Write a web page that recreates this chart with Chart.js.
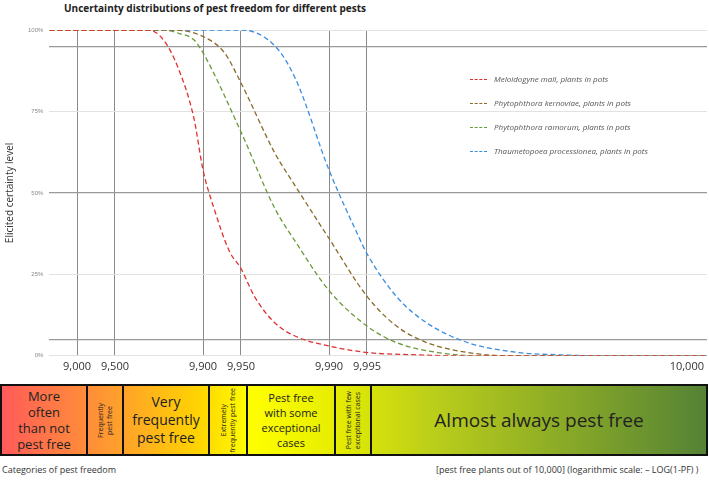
<!DOCTYPE html>
<html><head><meta charset="utf-8">
<script src="https://cdn.jsdelivr.net/npm/chart.js@4"></script>
<style>
body{margin:0;width:709px;height:489px;position:relative;background:#fff;font-family:"Open Sans",sans-serif;overflow:hidden}
#wrap{position:absolute;left:0;top:20px;width:709px;height:357px}
#title{position:absolute;left:64px;top:1px;font:bold 10px "Open Sans",sans-serif;color:#222}
.leg{position:absolute;left:470px;font:italic 8px "Open Sans",sans-serif;color:#555;white-space:nowrap}
.leg span{display:inline-block;width:17px;border-top:1.5px dashed;vertical-align:middle;margin-right:7px}
#band{position:absolute;left:0;top:384px;width:708px;height:72px;background:linear-gradient(to right,#ff5a5a 0px,#ff9a30 110px,#ffd500 200px,#ffff00 250px,#e8ee00 330px,#bccf1a 430px,#548235 708px)}
.b{position:absolute;top:0;height:68px;border:2px solid #111;display:flex;align-items:center;justify-content:center;text-align:center;font-family:"Open Sans",sans-serif;color:#222;box-sizing:content-box}
.v{writing-mode:vertical-rl;transform:rotate(180deg);font-size:7px;line-height:9px;white-space:nowrap}
.foot{position:absolute;top:463px;font:9px "Open Sans",sans-serif;color:#333}
</style></head><body>
<div id="title">Uncertainty distributions of pest freedom for different pests</div>
<div id="wrap"><canvas id="c" width="709" height="357"></canvas></div>
<div class="leg" style="top:73px;"><span style="border-color:#e03030"></span>Meloidogyne mali, plants in pots</div>
<div class="leg" style="top:97px;"><span style="border-color:#8b6a2a"></span>Phytophthora kernoviae, plants in pots</div>
<div class="leg" style="top:121px;"><span style="border-color:#6a9a3a"></span>Phytophthora ramorum, plants in pots</div>
<div class="leg" style="top:145px;"><span style="border-color:#3a8ee0"></span>Thaumetopoea processionea, plants in pots</div>
<div id="band">
 <div class="b" style="left:0;width:84px;font-size:13px;line-height:16px">More<br>often<br>than not<br>pest free</div>
 <div class="b" style="left:86px;width:34px"><div class="v">Frequently<br>pest free</div></div>
 <div class="b" style="left:122px;width:84px;font-size:14px;line-height:18px">Very<br>frequently<br>pest free</div>
 <div class="b" style="left:208px;width:36px"><div class="v">Extremely<br>frequently pest free</div></div>
 <div class="b" style="left:246px;width:86px;font-size:11px;line-height:15px">Pest free<br>with some<br>exceptional<br>cases</div>
 <div class="b" style="left:334px;width:34px"><div class="v">Pest free with few<br>exceptional cases</div></div>
 <div class="b" style="left:370px;width:334px;font-size:19px">Almost always pest free</div>
</div>
<div class="foot" style="left:2px">Categories of pest freedom</div>
<div class="foot" style="left:436px">[pest free plants out of 10,000] (logarithmic scale: – LOG(1-PF) )</div>
<script>
// x values are -log10(1 - PF)
const tickPos = [1, 1.301, 2, 2.301, 3, 3.301, 5.84];
const tickLabels = ['9,000','9,500','9,900','9,950','9,990','9,995','10,000'];
const meloX = [0.78,1.565,1.685,1.806,1.927,2.0,2.089,2.21,2.298,2.411,2.573,2.734,3.0,3.306,3.70,4.024,6];
const meloY = [100,100,97,88,73,57,45,32,27,18,10,6,3,1,0.3,0,0];
const kernX = [0.78,1.766,2.0,2.17,2.298,2.573,2.734,3.0,3.306,3.54,3.78,4.105,4.427,6];
const kernY = [100,100,98,93,84,62,52,36,18,9,4,1,0,0];
const ramoX = [0.78,1.685,1.806,1.927,2.0,2.298,2.573,2.734,3.0,3.306,3.54,3.863,4.185,6];
const ramoY = [100,100,99,97,93,69,45,35,20,9,4,1,0,0];
const thauX = [0.78,2.306,2.573,2.734,3.0,3.218,3.306,3.54,3.78,4.105,4.508,4.83,5.153,6];
const thauY = [100,100,95,85,57,38,31,18,10,4,1,0.3,0,0];
const yTicks = [0,5,25,50,75,95,100];
const yLabels = {0:'0%',25:'25%',50:'50%',75:'75%',100:'100%'};
const pts=(xs,ys)=>xs.map((x,i)=>({x:x,y:ys[i]}));
const ds=(l,xs,ys,c)=>({label:l,data:pts(xs,ys),borderColor:c,borderWidth:1.3,borderDash:[5,3],pointRadius:0,fill:false,cubicInterpolationMode:'monotone'});
new Chart(document.getElementById('c'),{type:'line',
 data:{datasets:[
  ds('Meloidogyne mali, plants in pots',meloX,meloY,'#e03030'),
  ds('Phytophthora kernoviae, plants in pots',kernX,kernY,'#8b6a2a'),
  ds('Phytophthora ramorum, plants in pots',ramoX,ramoY,'#6a9a3a'),
  ds('Thaumetopoea processionea, plants in pots',thauX,thauY,'#3a8ee0')]},
 options:{responsive:false,animation:false,maintainAspectRatio:false,
  layout:{padding:{left:0,right:2,top:10,bottom:0}},
  plugins:{legend:{display:false},tooltip:{enabled:false}},
  scales:{
   x:{type:'linear',min:0.78,max:6,
    afterBuildTicks:a=>{a.ticks=tickPos.map(v=>({value:v}));},
    ticks:{autoSkip:false,maxRotation:0,color:'#333',font:{size:11,family:'"Open Sans"'},padding:4,
      callback:(v,i)=>tickLabels[i]},
    grid:{drawTicks:false,color:c=>c.index===6?'rgba(0,0,0,0)':'#8a8a8a',lineWidth:1},
    border:{display:false}},
   y:{min:0,max:100,
    afterBuildTicks:a=>{a.ticks=yTicks.map(v=>({value:v}));},
    ticks:{color:'#888',font:{size:6},padding:6,callback:v=>yLabels[v]||''},
    grid:{drawTicks:false,color:c=>[5,50,95].includes(c.tick.value)?'#999':'#e2e2e2',lineWidth:c=>[5,50,95].includes(c.tick.value)?1.3:1},
    border:{display:false},
    title:{display:true,text:'Elicited certainty level',color:'#333',font:{size:10,family:'"Open Sans"'},padding:{bottom:6}}}
  }}
});
</script>
</body></html>
